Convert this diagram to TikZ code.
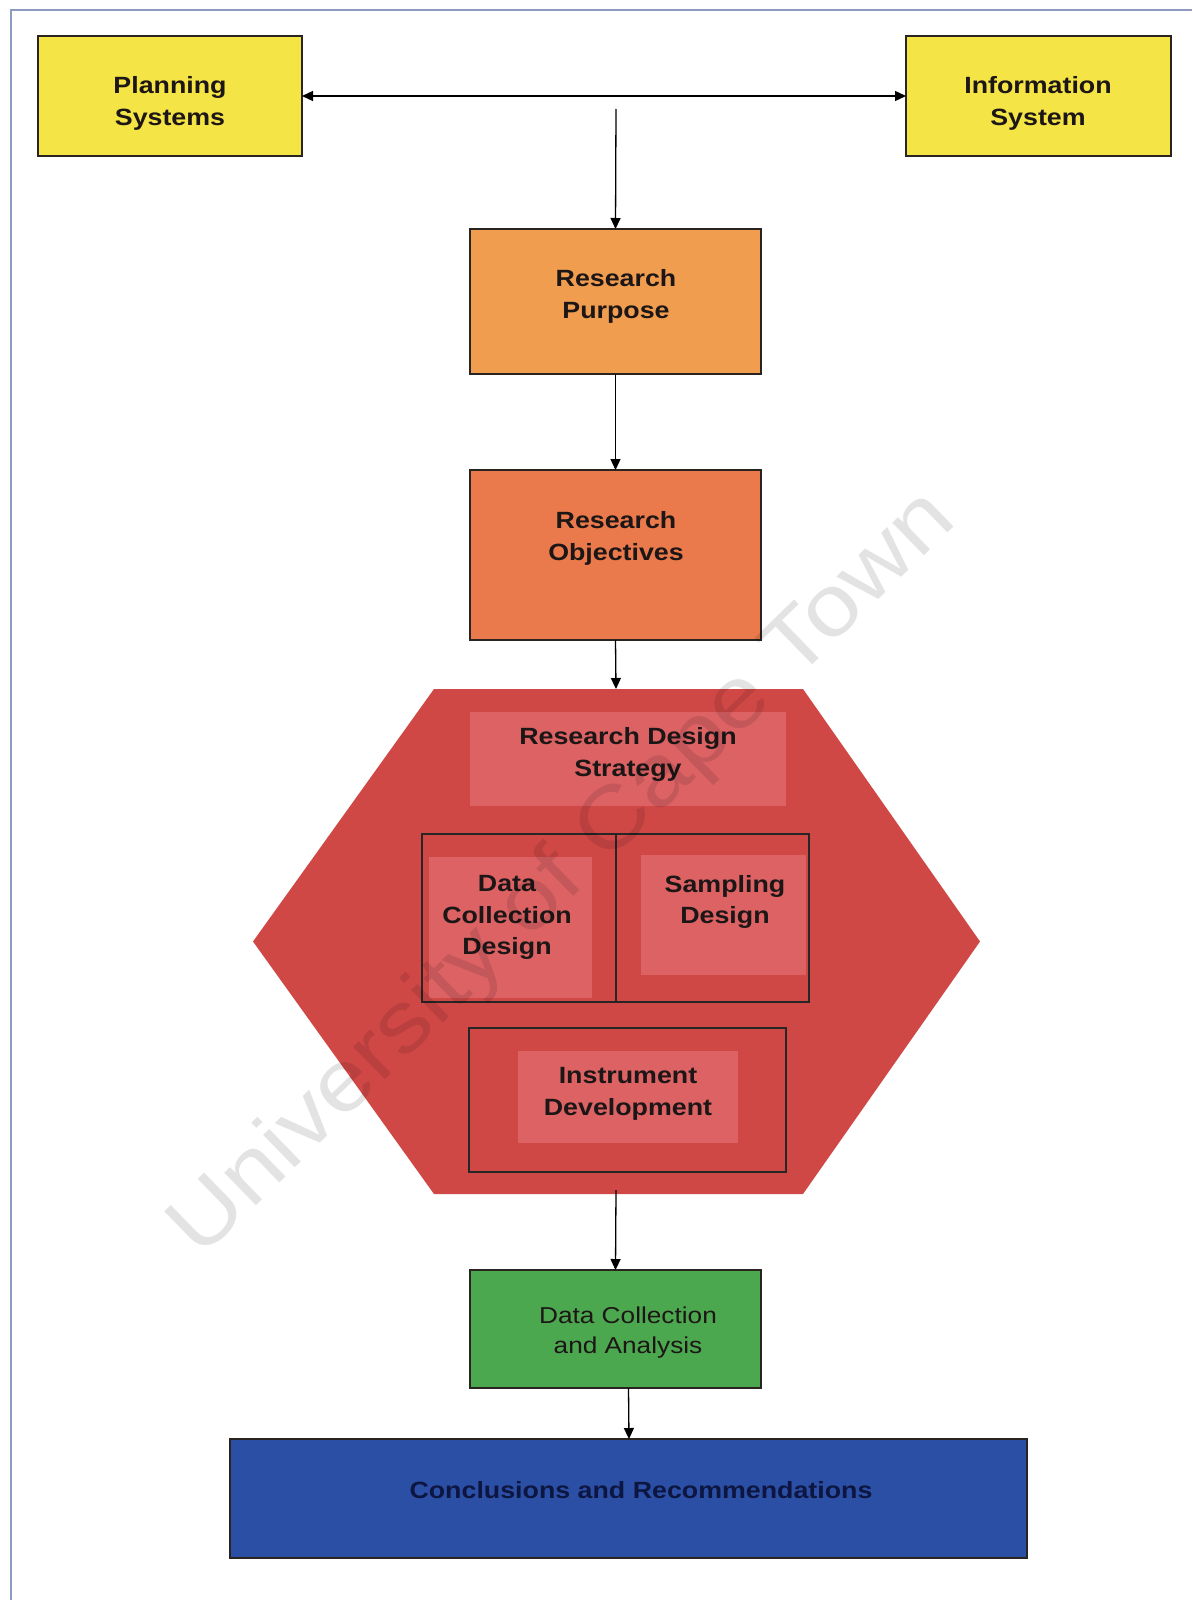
\documentclass[tikz,border=0pt]{standalone}
\usepackage{fontspec}
\setmainfont{Liberation Sans}[FakeStretch=1.14]
\usetikzlibrary{arrows.meta,calc}

\definecolor{frameline}{HTML}{8C9BBF}
\definecolor{sysyellow}{HTML}{F4E445}
\definecolor{purposeorange}{HTML}{F19D50}
\definecolor{objorange}{HTML}{EA7A4B}
\definecolor{hexred}{HTML}{D04846}
\definecolor{hexlight}{HTML}{DC6264}
\definecolor{boxgreen}{HTML}{4CA84F}
\definecolor{boxblue}{HTML}{2C4FA6}
\definecolor{inktext}{HTML}{1C1616}
\definecolor{navytext}{HTML}{0C1640}
\definecolor{boxedge}{HTML}{2A2420}

\tikzset{
  box/.style={draw=boxedge, line width=2pt, inner sep=0pt, outer sep=0pt},
  subbox/.style={draw=black!85, line width=1.5pt, inner sep=0pt, outer sep=0pt},
  txt/.style={font=\bfseries\fontsize{23.5}{31.6}\selectfont, text=inktext, align=center, inner sep=0pt},
  flow/.style={draw=black, line width=1.3pt, -{Triangle[length=11pt,width=10pt]}},
}

\begin{document}
\begin{tikzpicture}[x=1pt,y=-1pt]
  \useasboundingbox (0,0) rectangle (1192,1600);
  \fill[white] (0,0) rectangle (1192,1600);

  % page frame
  \draw[frameline, line width=2pt] (11,1600) -- (11,10) -- (1192,10);

  % top row
  \node[box, fill=sysyellow, minimum width=264pt, minimum height=120pt] (plan) at (170,96) {};
  \node[txt] (plan-t) at (170,103.5) {Planning\\Systems};
  \node[box, fill=sysyellow, minimum width=265pt, minimum height=120pt] (info) at (1038.5,96) {};
  \node[txt] (info-t) at (1038,103.5) {Information\\System};
  \draw[flow, {Triangle[length=11pt,width=10pt]}-{Triangle[length=11pt,width=10pt]}] (plan.east) -- (info.west);

  % research purpose and objectives
  \node[box, fill=purposeorange, minimum width=291pt, minimum height=145pt] (purpose) at (615.5,301.5) {};
  \node[txt] (purpose-t) at (616,296.5) {Research\\Purpose};
  \coordinate (feed) at (616,109);
  \draw[flow] (feed) -- (purpose.north);

  \node[box, fill=objorange, minimum width=291pt, minimum height=170pt] (obj) at (615.5,555) {};
  \node[txt] (obj-t) at (616,538.5) {Research\\Objectives};
  \draw[flow] (purpose.south) -- (obj.north);

  % research design hexagon
  \path[fill=hexred] (434,689) -- (803,689) -- (980,941.5) -- (803,1194)
        -- (434,1194) -- (253,941.5) -- cycle;
  \coordinate (hex-top) at (616,689);
  \coordinate (hex-bot) at (616,1194);
  \draw[flow] (obj.south) -- (hex-top);

  \fill[hexlight] (470,712) rectangle (786,806);
  \node[txt] (rds-t) at (628,754.5) {Research Design\\Strategy};

  \fill[hexlight] (429,857) rectangle (592,998);
  \fill[hexlight] (641,855) rectangle (806,975);
  \node[subbox, minimum width=194pt, minimum height=168pt] (dcd) at (519,918) {};
  \node[subbox, minimum width=193pt, minimum height=168pt] (samp) at (712.5,918) {};
  \node[txt] (dcd-t) at (507,917.5) {Data\\Collection\\Design};
  \node[txt] (samp-t) at (725,902) {Sampling\\Design};

  \fill[hexlight] (518,1051) rectangle (738,1143);
  \node[subbox, minimum width=317pt, minimum height=144pt] (instr) at (627.5,1100) {};
  \node[txt] (instr-t) at (628,1094) {Instrument\\Development};

  % data collection and conclusions
  \node[box, fill=boxgreen, minimum width=291pt, minimum height=118pt] (dca) at (615.5,1329) {};
  \node[txt, font=\fontsize{23}{30}\selectfont] (dca-t) at (628,1333) {Data Collection\\and Analysis};
  \draw[flow] ([yshift=4pt]hex-bot) -- (dca.north);

  \node[box, fill=boxblue, minimum width=797pt, minimum height=119pt] (concl) at (628.5,1498.5) {};
  \node[txt, text=navytext] (concl-t) at (641,1490) {Conclusions and Recommendations};
  \draw[flow] ($(dca.south)+(13,0)$) -- ($(concl.north)+(0.5,0)$);

  % repository watermark
  \node[font=\fontsize{86}{86}\selectfont, text=black, opacity=0.11, rotate=44.2] (mark) at (564,875) {University of Cape Town};
\end{tikzpicture}
\end{document}
